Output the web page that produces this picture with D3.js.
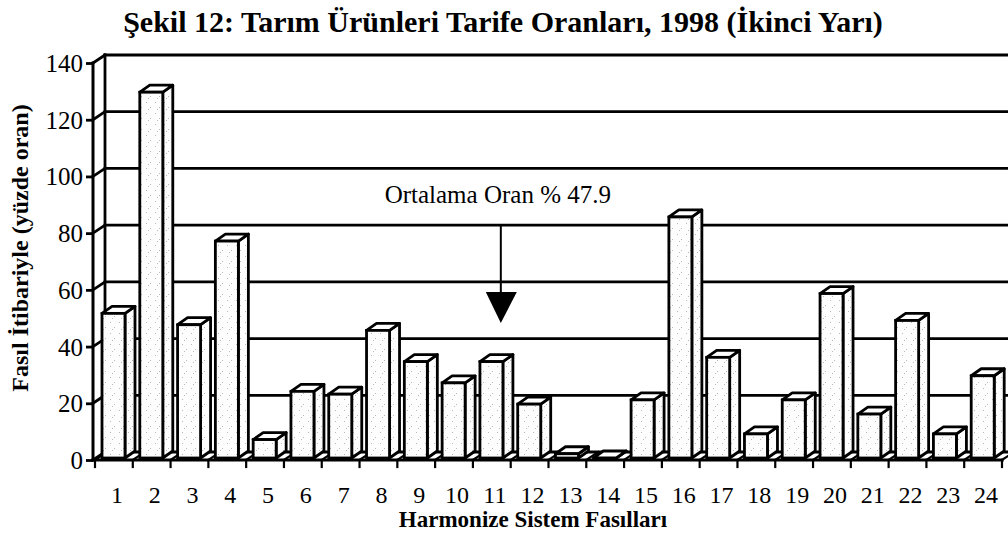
<!DOCTYPE html>
<html>
<head>
<meta charset="utf-8">
<script src="https://cdn.jsdelivr.net/npm/d3@7"></script>
<style>
  html, body { margin: 0; padding: 0; background: #fff; }
  svg { display: block; }
  text { font-family: "Liberation Serif", "DejaVu Serif", serif; fill: #000; }
</style>
</head>
<body>
<svg id="chart" width="1008" height="539"></svg>
<script>
// ---- data ----
const categories = ["1","2","3","4","5","6","7","8","9","10","11","12",
                    "13","14","15","16","17","18","19","20","21","22","23","24"];
const values = [51, 129, 47, 76.5, 6.5, 23.5, 22.5, 45, 34, 26.5, 34, 19,
                1.5, 0, 20.5, 85, 35.5, 8.5, 20.5, 58, 15.5, 48.5, 8.5, 29];
const yTicks = [0, 20, 40, 60, 80, 100, 120, 140];
const titleText = "Şekil 12: Tarım Ürünleri Tarife Oranları, 1998 (İkinci Yarı)";
const xTitle = "Harmonize Sistem Fasılları";
const yTitle = "Fasıl İtibariyle (yüzde oran)";
const annotationText = "Ortalama Oran % 47.9";
const annotationCategory = "11";
const annotationFrom = 80;

// ---- layout ----
const svg = d3.select("#chart");
const W = 1008;
const axisX = 93;
const wallDX = 12, wallDY = -8;
const barDX = 10, barDY = -7;

const x = d3.scaleBand().domain(categories).range([95, 1002]).paddingInner(0).paddingOuter(0);
const y = d3.scaleLinear().domain([0, 140]).range([460, 63]);

const defs = svg.append("defs");
const pat = defs.append("pattern").attr("id", "stip").attr("patternUnits", "userSpaceOnUse")
  .attr("width", 9).attr("height", 11);
pat.append("rect").attr("width", 9).attr("height", 11).attr("fill", "#fdfdfd");
[[2,3],[6,8],[4,10]].forEach(p => pat.append("rect").attr("x", p[0]).attr("y", p[1])
  .attr("width", 1).attr("height", 1).attr("fill", "#b8b8b8"));

const g = svg.append("g");
const line = (x1, y1, x2, y2, w) => g.append("line")
  .attr("x1", x1).attr("y1", y1).attr("x2", x2).attr("y2", y2)
  .attr("stroke", "#000").attr("stroke-width", w).attr("stroke-linecap", "square");

yTicks.forEach(v => {
  line(axisX + wallDX, y(v) + wallDY, W + 5, y(v) + wallDY, v === 140 ? 3.2 : 2.8);
  line(axisX, y(v), axisX + wallDX, y(v) + wallDY, 2.8);
});
line(axisX, y(140), axisX, y(0), 3);
line(axisX + wallDX, y(140) + wallDY, axisX + wallDX, y(0) + wallDY, 2.8);

const bounds = categories.map(c => x(c)).concat([x.range()[1]]);
bounds.forEach(b => line(b, y(0), b + wallDX, y(0) + wallDY, 2.2));

const baseY = y(0) - 2;
const bars = g.selectAll("g.bar").data(categories.map((c, i) => ({c, v: values[i]})))
  .enter().append("g").attr("class", "bar");
bars.each(function(d) {
  const sel = d3.select(this);
  const x0 = x(d.c) + 7, x1 = x0 + 23;
  const top = y(d.v) - 2;
  sel.append("polygon")
    .attr("points", [[x1, baseY], [x1, top], [x1 + barDX, top + barDY], [x1 + barDX, baseY + barDY]].join(" "))
    .attr("fill", "url(#stip)").attr("stroke", "#000").attr("stroke-width", 2.8).attr("stroke-linejoin", "round");
  sel.append("polygon")
    .attr("points", [[x0, top], [x1, top], [x1 + barDX, top + barDY], [x0 + barDX, top + barDY]].join(" "))
    .attr("fill", "#fff").attr("stroke", "#000").attr("stroke-width", 2.8).attr("stroke-linejoin", "round");
  sel.append("rect")
    .attr("x", x0).attr("y", top).attr("width", 23).attr("height", Math.max(0, baseY - top))
    .attr("fill", "url(#stip)").attr("stroke", "#000").attr("stroke-width", 2.8);
});

line(axisX, y(0), x.range()[1], y(0), 3.2);
bounds.forEach(b => line(b, y(0), b, y(0) + 7, 2.2));

const yAxis = d3.axisLeft(y).tickValues(yTicks).tickSize(7).tickPadding(3);
const ya = svg.append("g").attr("transform", `translate(${axisX},0)`).call(yAxis);
ya.select(".domain").remove();
ya.selectAll(".tick line").attr("stroke", "#000").attr("stroke-width", 2.8);
ya.selectAll(".tick text").style("font-family", "'Liberation Serif', serif")
  .style("font-size", "25px").attr("fill", "#000").attr("dy", "0.34em");

const xAxis = d3.axisBottom(x).tickSize(0).tickPadding(0);
const xa = svg.append("g").attr("transform", `translate(3,${y(0)})`).call(xAxis);
xa.select(".domain").remove();
xa.selectAll(".tick text").style("font-family", "'Liberation Serif', serif")
  .style("font-size", "24px").attr("fill", "#000").attr("y", 43).attr("dy", 0);

const ax = x(annotationCategory) + x.bandwidth() / 2 + 9;
svg.append("text").attr("x", ax - 3).attr("y", 203).attr("text-anchor", "middle")
  .style("font-size", "25px").text(annotationText);
svg.append("line").attr("x1", ax).attr("y1", y(annotationFrom) + wallDY).attr("x2", ax).attr("y2", 292)
  .attr("stroke", "#000").attr("stroke-width", 2);
svg.append("polygon").attr("points", [[ax - 15, 292], [ax + 16, 292], [ax, 323]].join(" ")).attr("fill", "#000");

svg.append("text").attr("x", 503).attr("y", 32).attr("text-anchor", "middle")
  .style("font-size", "30px").style("font-weight", "bold").text(titleText);
svg.append("text").attr("x", 533).attr("y", 527).attr("text-anchor", "middle")
  .style("font-size", "23px").style("font-weight", "bold").text(xTitle);
svg.append("text").attr("transform", "translate(28,248) rotate(-90)").attr("text-anchor", "middle")
  .style("font-size", "24px").style("font-weight", "bold").text(yTitle);
</script>
</body>
</html>
